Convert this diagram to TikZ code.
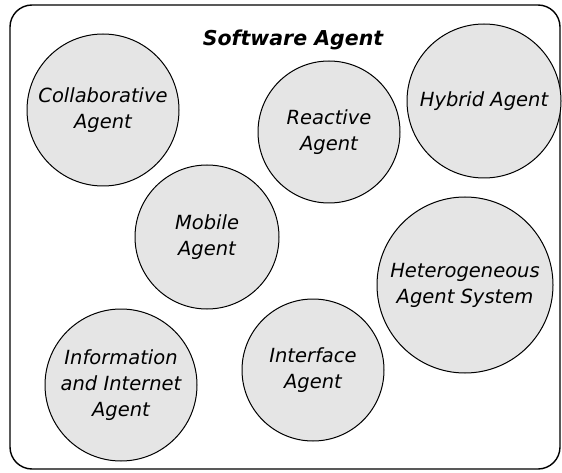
\documentclass[tikz,border=0pt]{standalone}
\usepackage{fontspec}
\setmainfont{DejaVu Sans}

\begin{document}
\begin{tikzpicture}[x=1pt,y=-1pt,
                every node/.style={circle,draw,fill=black!10,line width=1pt,
                    align=center,inner sep=0pt,
                    font=\itshape\fontsize{19.5}{26}\selectfont},
                heading/.style={rectangle,draw=none,fill=none,
                    font=\bfseries\itshape\fontsize{20.5}{24}\selectfont}
            ]
                \useasboundingbox (0,0) rectangle (562,473);
                \draw[line width=1.4pt,rounded corners=22pt] (10,5) rectangle (560,469);
                \node[heading] (title) at (293,40) {Software Agent};
                \node[minimum size=152pt] (collab) at (103,110) {Collaborative\\Agent};
                \node[minimum size=142pt] (reactive) at (329,132) {Reactive\\Agent};
                \node[minimum size=154pt] (hybrid) at (484,101) {Hybrid Agent};
                \node[minimum size=144pt] (mobile) at (207,237) {Mobile\\Agent};
                \node[minimum size=176pt] (hetero) at (465,285) {Heterogeneous\\Agent System};
                \node[minimum size=152pt] (info) at (121,385) {Information\\and Internet\\Agent};
                \node[minimum size=142pt] (interface) at (313,370) {Interface\\Agent};
            \end{tikzpicture}
\end{document}
